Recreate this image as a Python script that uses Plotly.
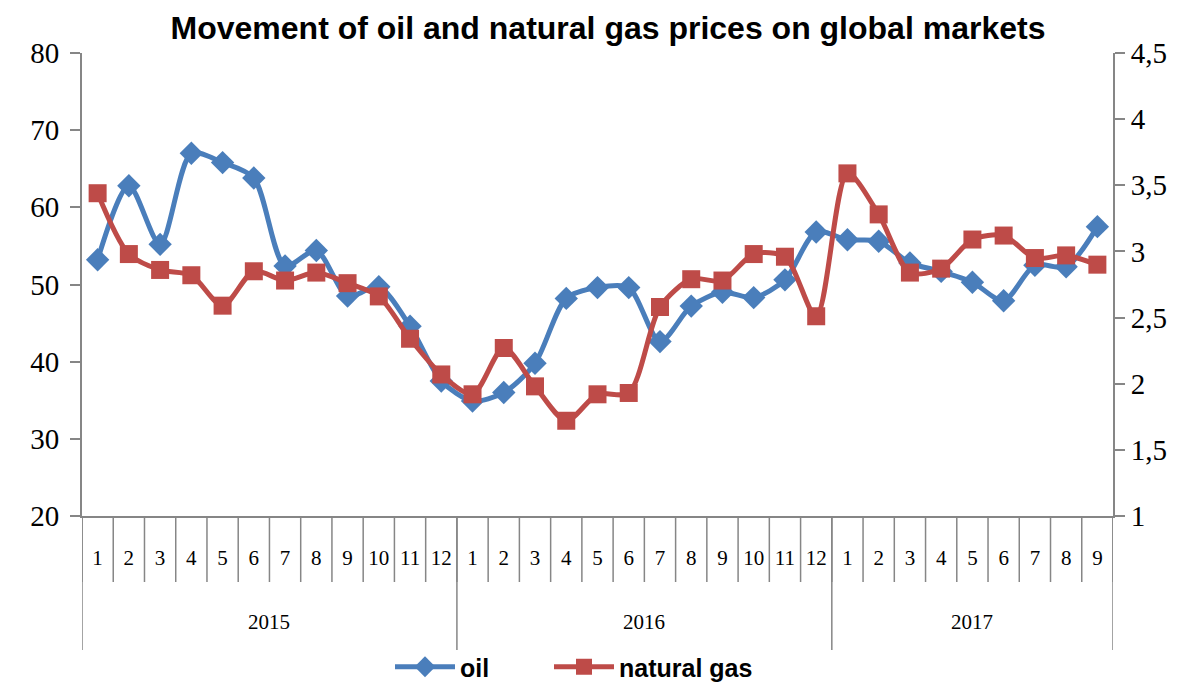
import plotly.graph_objects as go
from plotly.subplots import make_subplots

years = ["2015"] * 12 + ["2016"] * 12 + ["2017"] * 9
months = [str(m) for m in range(1, 13)] * 2 + [str(m) for m in range(1, 10)]
year_labels = ["2015", "2016", "2017"]

oil = [53.2, 62.8, 55.2, 67.0, 65.8, 63.8, 52.4, 54.4, 48.5, 49.7, 44.6, 37.5,
       34.9, 36.0, 39.8, 48.2, 49.6, 49.6, 42.6, 47.2, 49.0, 48.3, 50.6, 56.8,
       55.8, 55.6, 52.8, 51.7, 50.3, 47.9, 52.5, 52.3, 57.5]
gas = [3.44, 2.98, 2.86, 2.82, 2.59, 2.85, 2.78, 2.84, 2.76, 2.66, 2.34, 2.07,
       1.92, 2.27, 1.98, 1.72, 1.92, 1.93, 2.58, 2.79, 2.78, 2.98, 2.96, 2.51,
       3.59, 3.28, 2.84, 2.87, 3.09, 3.12, 2.95, 2.97, 2.90]

title = "Movement of oil and natural gas prices on global markets"

n = len(months)
xpos = list(range(n))

fig = make_subplots(specs=[[{"secondary_y": True}]])
fig.add_trace(go.Scatter(
    x=xpos, y=oil, name="oil", mode="lines+markers", legend="legend",
    line=dict(color="#4A7EBB", width=5, shape="spline", smoothing=0.8),
    marker=dict(symbol="diamond", size=18, color="#4A7EBB")), secondary_y=False)
fig.add_trace(go.Scatter(
    x=xpos, y=gas, name="natural gas", mode="lines+markers", legend="legend2",
    line=dict(color="#BE4B48", width=5, shape="spline", smoothing=0.8),
    marker=dict(symbol="square", size=18, color="#BE4B48")), secondary_y=True)

axis_gray = "#868686"
serif = "Liberation Serif, Times New Roman, serif"
sans = "Liberation Sans, Arial, sans-serif"

W, H = 1179, 682
off = 8  # page body margin
m_l, m_t = 82 - off, 53 - off
m_r = W - (1113 - off)
m_b = H - (516 - off)
plot_w = W - m_l - m_r
plot_h = H - m_t - m_b
month_tick_len = 66 / plot_h
year_tick_len = 134 / plot_h

shapes = []
for k in range(n + 1):
    shapes.append(dict(type="line", xref="x", yref="paper", x0=k - 0.5, x1=k - 0.5,
                       y0=0, y1=-month_tick_len, line=dict(color=axis_gray, width=1.5)))
starts = [0]
for i in range(1, n):
    if years[i] != years[i - 1]:
        starts.append(i)
bounds = starts + [n]
for b in bounds:
    shapes.append(dict(type="line", xref="x", yref="paper", x0=b - 0.5, x1=b - 0.5,
                       y0=0, y1=-year_tick_len, line=dict(color=axis_gray, width=1.5)))

annotations = []
for j, yl in enumerate(year_labels):
    mid = (bounds[j] + bounds[j + 1] - 1) / 2
    annotations.append(dict(text=yl, x=mid, xref="x", y=(516 - 622) / plot_h, yref="paper",
                            showarrow=False, xanchor="center", yanchor="middle",
                            font=dict(family=serif, size=21, color="black")))

leg_common = dict(orientation="h", xanchor="left", y=(516 - 667) / plot_h, yanchor="middle",
                  font=dict(family=sans, size=25, color="black", weight="bold"),
                  itemwidth=60, bgcolor="rgba(0,0,0,0)")

fig.update_layout(
    width=W, height=H,
    margin=dict(l=m_l, r=m_r, t=m_t, b=m_b, autoexpand=False),
    paper_bgcolor="white", plot_bgcolor="white",
    separators=", ",
    title=dict(text="<b>" + title + "</b>", x=(608 - off) / W, xanchor="center",
               y=1 - (28 - off) / H, yanchor="middle",
               font=dict(family=sans, size=32, color="black")),
    legend=dict(x=(390 - 82) / plot_w, **leg_common),
    legend2=dict(x=(549 - 82) / plot_w, **leg_common),
    showlegend=True,
    shapes=shapes,
    annotations=annotations,
)
fig.update_xaxes(domain=[0, 1], range=[-0.5, n - 0.5], tickmode="array", tickvals=xpos, ticktext=months,
                 showline=True, linecolor=axis_gray, linewidth=2,
                 ticks="outside", ticklen=22, tickcolor="rgba(0,0,0,0)",
                 showgrid=False, zeroline=False, automargin=False, tickangle=0,
                 tickfont=dict(family=serif, size=21, color="black"))
fig.update_yaxes(range=[20, 80], dtick=10, showline=True, linecolor=axis_gray, linewidth=2,
                 ticks="outside", ticklen=10, tickcolor=axis_gray, tickwidth=2, showgrid=False, zeroline=False,
                 ticklabelstandoff=5, automargin=False,
                 tickfont=dict(family=serif, size=29, color="black"),
                 secondary_y=False)
fig.update_yaxes(range=[1, 4.5], dtick=0.5, showline=True, linecolor=axis_gray, linewidth=2,
                 ticks="outside", ticklen=10, tickcolor=axis_gray, tickwidth=2, showgrid=False, zeroline=False,
                 automargin=False,
                 tickfont=dict(family=serif, size=29, color="black"),
                 secondary_y=True)

fig.write_html("out.html")
